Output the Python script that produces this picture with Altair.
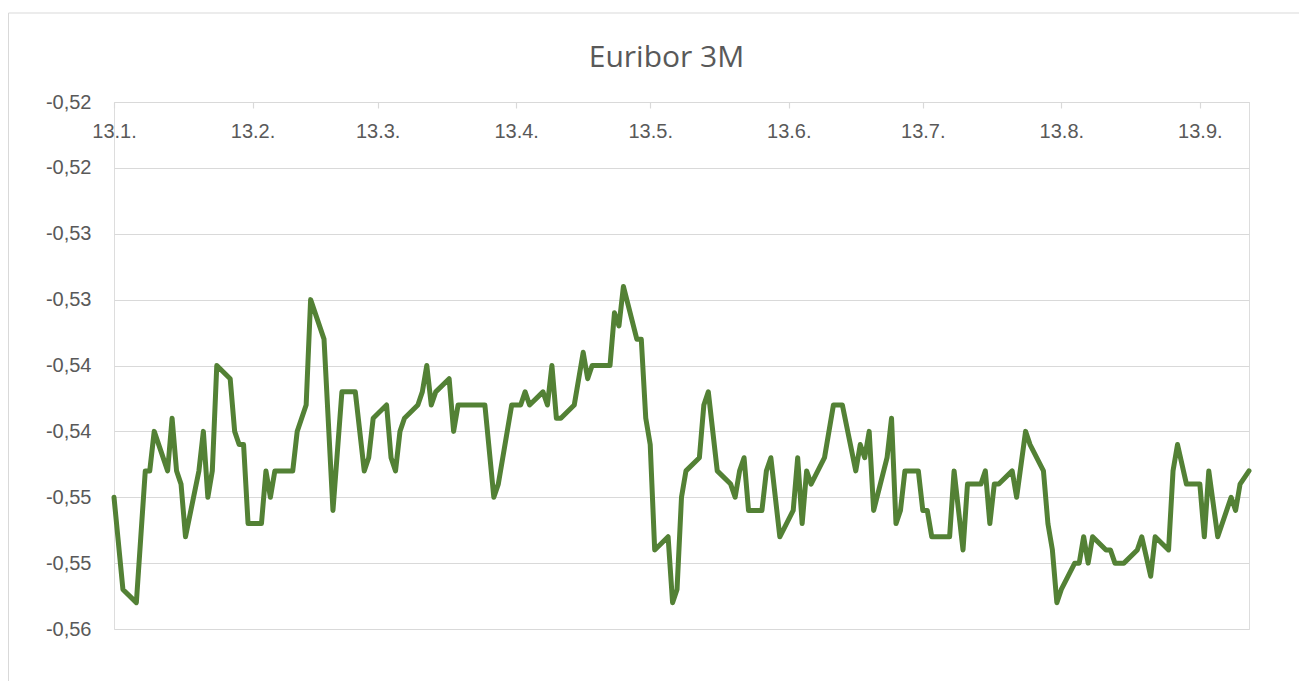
import altair as alt
import pandas as pd

TITLE = "Euribor 3M"

DATES = [
    "2021-01-13", "2021-01-15", "2021-01-18", "2021-01-19", "2021-01-20", "2021-01-21", "2021-01-22",
    "2021-01-25", "2021-01-26", "2021-01-27", "2021-01-28", "2021-01-29",
    "2021-02-01", "2021-02-02", "2021-02-03", "2021-02-04", "2021-02-05",
    "2021-02-08", "2021-02-09", "2021-02-10", "2021-02-11", "2021-02-12",
    "2021-02-15", "2021-02-16", "2021-02-17", "2021-02-18",
    "2021-02-22", "2021-02-23", "2021-02-25", "2021-02-26",
    "2021-03-01", "2021-03-03", "2021-03-05",
    "2021-03-08", "2021-03-09", "2021-03-10", "2021-03-11", "2021-03-12",
    "2021-03-15", "2021-03-16", "2021-03-17", "2021-03-18", "2021-03-19",
    "2021-03-22", "2021-03-23", "2021-03-24", "2021-03-25", "2021-03-26",
    "2021-03-29", "2021-03-30", "2021-03-31",
    "2021-04-06", "2021-04-08", "2021-04-09",
    "2021-04-12", "2021-04-14", "2021-04-15", "2021-04-16",
    "2021-04-19", "2021-04-20", "2021-04-21", "2021-04-22", "2021-04-23",
    "2021-04-26", "2021-04-28", "2021-04-29", "2021-04-30",
    "2021-05-04", "2021-05-05", "2021-05-06", "2021-05-07",
    "2021-05-10", "2021-05-11", "2021-05-12", "2021-05-13", "2021-05-14",
    "2021-05-17", "2021-05-18", "2021-05-19", "2021-05-20", "2021-05-21",
    "2021-05-24", "2021-05-25", "2021-05-26", "2021-05-28",
    "2021-05-31", "2021-06-01", "2021-06-02", "2021-06-03", "2021-06-04",
    "2021-06-07", "2021-06-08", "2021-06-09", "2021-06-11",
    "2021-06-14", "2021-06-15", "2021-06-16", "2021-06-17", "2021-06-18",
    "2021-06-21", "2021-06-23", "2021-06-25",
    "2021-06-28", "2021-06-29", "2021-06-30", "2021-07-01", "2021-07-02",
    "2021-07-05", "2021-07-06", "2021-07-07", "2021-07-08", "2021-07-09",
    "2021-07-12", "2021-07-13", "2021-07-14", "2021-07-15",
    "2021-07-19", "2021-07-20", "2021-07-22", "2021-07-23",
    "2021-07-26", "2021-07-27", "2021-07-28", "2021-07-29", "2021-07-30",
    "2021-08-02", "2021-08-03", "2021-08-05", "2021-08-06",
    "2021-08-09", "2021-08-10", "2021-08-11", "2021-08-12", "2021-08-13",
    "2021-08-16", "2021-08-17", "2021-08-18", "2021-08-19", "2021-08-20",
    "2021-08-23", "2021-08-24", "2021-08-25", "2021-08-27",
    "2021-08-30", "2021-08-31", "2021-09-02", "2021-09-03",
    "2021-09-06", "2021-09-07", "2021-09-08", "2021-09-10",
    "2021-09-13", "2021-09-14", "2021-09-15", "2021-09-17",
    "2021-09-20", "2021-09-21", "2021-09-22", "2021-09-24",
]

RATES = [
    -0.545, -0.552, -0.553, -0.548, -0.543, -0.543, -0.540,
    -0.543, -0.539, -0.543, -0.544, -0.548,
    -0.543, -0.540, -0.545, -0.543, -0.535,
    -0.536, -0.540, -0.541, -0.541, -0.547,
    -0.547, -0.543, -0.545, -0.543,
    -0.543, -0.540, -0.538, -0.530,
    -0.533, -0.546, -0.537,
    -0.537, -0.540, -0.543, -0.542, -0.539,
    -0.538, -0.542, -0.543, -0.540, -0.539,
    -0.538, -0.537, -0.535, -0.538, -0.537,
    -0.536, -0.540, -0.538,
    -0.538, -0.545, -0.544,
    -0.538, -0.538, -0.537, -0.538,
    -0.537, -0.538, -0.535, -0.539, -0.539,
    -0.538, -0.534, -0.536, -0.535,
    -0.535, -0.531, -0.532, -0.529,
    -0.533, -0.533, -0.539, -0.541, -0.549,
    -0.548, -0.553, -0.552, -0.545, -0.543,
    -0.542, -0.538, -0.537, -0.543,
    -0.544, -0.545, -0.543, -0.542, -0.546,
    -0.546, -0.543, -0.542, -0.548,
    -0.546, -0.542, -0.547, -0.543, -0.544,
    -0.542, -0.538, -0.538,
    -0.543, -0.541, -0.542, -0.540, -0.546,
    -0.542, -0.539, -0.547, -0.546, -0.543,
    -0.543, -0.546, -0.546, -0.548,
    -0.548, -0.543, -0.549, -0.544,
    -0.544, -0.543, -0.547, -0.544, -0.544,
    -0.543, -0.545, -0.540, -0.541,
    -0.543, -0.547, -0.549, -0.553, -0.552,
    -0.550, -0.550, -0.548, -0.550, -0.548,
    -0.549, -0.549, -0.550, -0.550,
    -0.549, -0.548, -0.551, -0.548,
    -0.549, -0.543, -0.541, -0.544,
    -0.544, -0.548, -0.543, -0.548,
    -0.545, -0.546, -0.544, -0.543,
]

Y_TICKS = [-0.555, -0.550, -0.545, -0.540, -0.535, -0.530, -0.525, -0.520, -0.515]
X_TICK_MONTHS = [1, 2, 3, 4, 5, 6, 7, 8, 9]
X_TICK_DAY = 13
X_START = (2021, 1, 13)
X_END = (2021, 9, 24)

df = pd.DataFrame({"date": DATES, "rate": RATES})

W, H = 1135, 527
GRID = "#d9d9d9"
TEXT = "#595959"

x_values = [alt.DateTime(year=2021, month=m, date=X_TICK_DAY, utc=True) for m in X_TICK_MONTHS]

line = alt.Chart(df).mark_line(
    color="#538135", strokeWidth=5, strokeJoin="round", strokeCap="round"
).encode(
    x=alt.X(
        "date:T",
        scale=alt.Scale(
            type="utc",
            domain=[
                alt.DateTime(year=X_START[0], month=X_START[1], date=X_START[2], utc=True),
                alt.DateTime(year=X_END[0], month=X_END[1], date=X_END[2], utc=True),
            ],
            nice=False,
        ),
        axis=alt.Axis(
            orient="bottom",
            offset=-H,
            values=x_values,
            format="%-d.%-m.",
            title=None,
            grid=False,
            domain=True,
            domainColor=GRID,
            domainWidth=1.2,
            ticks=True,
            tickColor=GRID,
            tickSize=6,
            tickWidth=1.2,
            labelPadding=13,
            labelFont="Liberation Sans",
            labelFontSize=20,
            labelColor=TEXT,
            labelFlush=False,
        ),
    ),
    y=alt.Y(
        "rate:Q",
        scale=alt.Scale(domain=[Y_TICKS[0], Y_TICKS[-1]], zero=False, nice=False),
        axis=alt.Axis(
            values=Y_TICKS,
            labelExpr="'-0,' + round(-datum.value * 100 + 0.000001)",
            title=None,
            domain=False,
            ticks=False,
            tickSize=0,
            grid=True,
            gridColor=GRID,
            gridWidth=1.2,
            labelPadding=23,
            labelFont="Liberation Sans",
            labelFontSize=20,
            labelColor=TEXT,
            labelBaseline="middle",
            labelFlush=False,
        ),
    ),
)

frame_df = pd.DataFrame({"k": [0]})
frame_top = alt.Chart(frame_df).mark_rule(color=GRID, strokeWidth=1).encode(
    x=alt.value(-105.5), x2=alt.value(W + 50), y=alt.value(-89)
)
frame_left = alt.Chart(frame_df).mark_rule(color=GRID, strokeWidth=1).encode(
    x=alt.value(-105.5), y=alt.value(-89), y2=alt.value(H + 52)
)

chart = alt.layer(frame_top, frame_left, line).properties(
    width=W,
    height=H,
    padding={"left": 0, "top": 4, "right": 0, "bottom": 0},
    title=alt.TitleParams(
        TITLE,
        font="Open Sans",
        fontSize=30,
        fontWeight="normal",
        color=TEXT,
        anchor="middle",
        frame="group",
        baseline="alphabetic",
        offset=-84,
        dx=-15,
    ),
).configure_view(stroke=None).configure(background="transparent")

chart.save("out.html", embed_options={"renderer": "svg", "actions": False})
